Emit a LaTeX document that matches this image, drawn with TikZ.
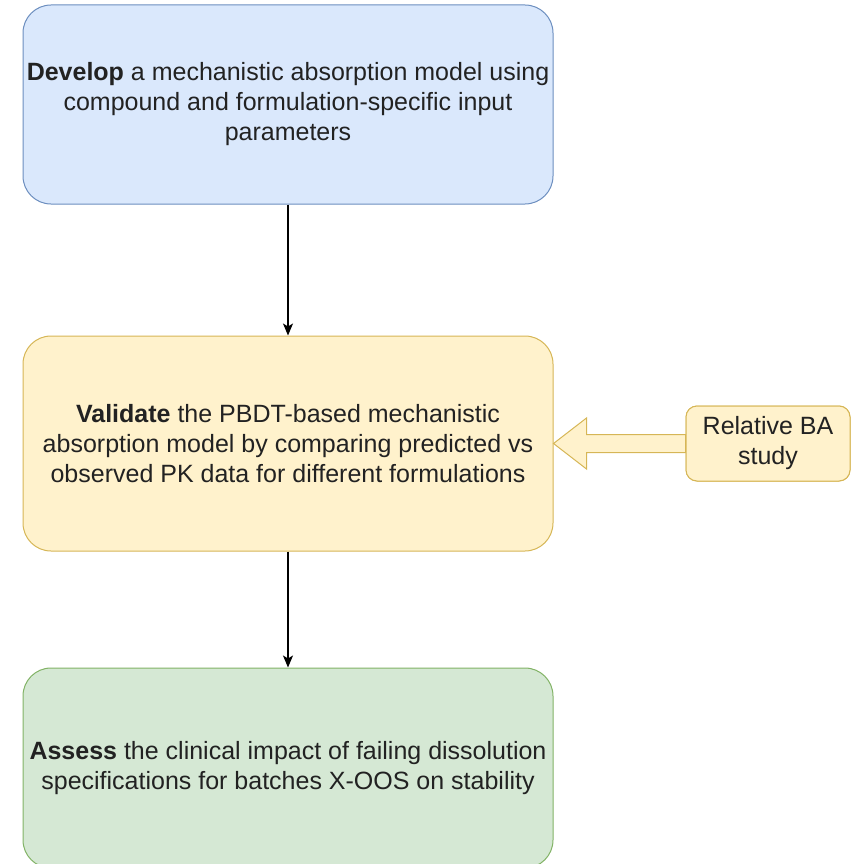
\documentclass[tikz,border=0pt]{standalone}
\usepackage{fontspec}
\setmainfont{Liberation Sans}
\usetikzlibrary{arrows.meta,calc}
\definecolor{bluefill}{HTML}{DAE8FC}
\definecolor{bluedraw}{HTML}{6C8EBF}
\definecolor{yelfill}{HTML}{FFF2CC}
\definecolor{yeldraw}{HTML}{D6B656}
\definecolor{grnfill}{HTML}{D5E8D4}
\definecolor{grndraw}{HTML}{82B366}
\definecolor{txt}{HTML}{222222}
\tikzset{
  stepbox/.style={rectangle, rounded corners=28pt, line width=1pt,
    minimum width=530pt, align=center, inner sep=0pt,
    font=\fontsize{25pt}{30pt}\selectfont, text=txt},
  bluebox/.style={stepbox, fill=bluefill, draw=bluedraw, minimum height=199pt},
  yelbox/.style={stepbox, fill=yelfill, draw=yeldraw, minimum height=215pt},
  grnbox/.style={stepbox, fill=grnfill, draw=grndraw, minimum height=200pt},
  sidebox/.style={rectangle, rounded corners=11pt, line width=1pt, fill=yelfill, draw=yeldraw,
    minimum width=164pt, minimum height=75pt, align=center, inner sep=0pt,
    font=\fontsize{25pt}{30pt}\selectfont, text=txt},
  flow/.style={line width=1.2pt, -{Stealth[length=12pt,width=10pt,inset=3pt]}},
  barrow/.style={line width=1pt, fill=yelfill, draw=yeldraw, line join=miter}
}
\begin{document}
\begin{tikzpicture}[x=1pt,y=-1pt]
\useasboundingbox (0,0) rectangle (851,864);
\node[bluebox] (dev) at (288,104.5) {\textbf{Develop} a mechanistic absorption model using\\compound and formulation-specific input\\parameters};
\node[yelbox] (val) at (288,443.5) {\textbf{Validate} the PBDT-based mechanistic\\absorption model by comparing predicted vs\\observed PK data for different formulations};
\node[grnbox] (ass) at (288,768) {\textbf{Assess} the clinical impact of failing dissolution\\specifications for batches X-OOS on stability};
\node[sidebox] (ba) at (768,443.5) {Relative BA\\study};
\path (val.east) ++(33,0) coordinate (hb);
\draw[barrow] (val.east) -- ([yshift=25.5pt]hb) -- ([yshift=9pt]hb) -- ([yshift=9pt]ba.west)
  -- ([yshift=-9pt]ba.west) -- ([yshift=-9pt]hb) -- ([yshift=-25.5pt]hb) -- cycle;
\node[sidebox] at (ba) {Relative BA\\study};
\draw[flow] (dev) -- (val);
\draw[flow] (val) -- (ass);
\end{tikzpicture}
\end{document}
